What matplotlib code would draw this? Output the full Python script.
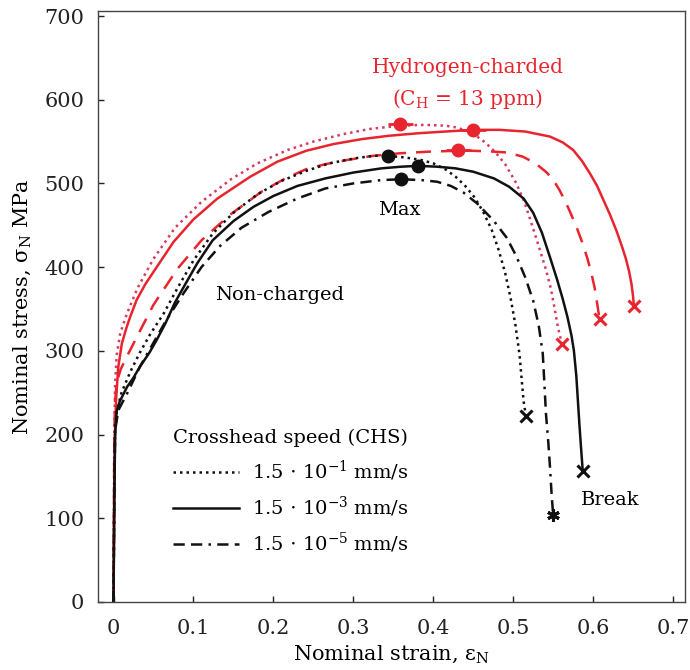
import matplotlib
matplotlib.use("Agg")
import matplotlib.pyplot as plt

plt.rcParams['font.family'] = ['DejaVu Serif']
plt.rcParams['mathtext.fontset'] = 'dejavuserif'

# ---- data (strain, stress MPa) ----
# Non-charged
nc_fast_x = [0, 0.001, 0.002, 0.004, 0.01, 0.021, 0.033, 0.046, 0.063, 0.08, 0.1, 0.124, 0.15, 0.18, 0.21, 0.241, 0.27, 0.302, 0.325, 0.343, 0.365, 0.385, 0.4, 0.415, 0.428, 0.44, 0.452, 0.463, 0.473, 0.482, 0.49, 0.497, 0.503, 0.508, 0.511, 0.513, 0.516]
nc_fast_y = [0, 130, 205, 228, 250, 275, 298, 320, 345, 375, 408, 440, 465, 487, 503, 515, 524, 530, 533, 533, 531, 528, 524, 517, 508, 497, 483, 465, 445, 420, 393, 362, 330, 295, 262, 240, 222]

nc_mid_x = [0, 0.001, 0.002, 0.004, 0.008, 0.017, 0.025, 0.033, 0.045, 0.054, 0.065, 0.077, 0.09, 0.105, 0.124, 0.15, 0.175, 0.2, 0.23, 0.265, 0.3, 0.335, 0.36, 0.381, 0.405, 0.428, 0.45, 0.476, 0.495, 0.513, 0.525, 0.536, 0.546, 0.555, 0.562, 0.568, 0.573, 0.576, 0.579, 0.581, 0.583, 0.585, 0.587]
nc_mid_y = [0, 120, 200, 228, 240, 257, 268, 281, 298, 313, 333, 358, 380, 405, 432, 455, 472, 485, 497, 506, 513, 518, 520, 521, 520, 518, 514, 506, 496, 482, 465, 441, 412, 385, 362, 340, 318, 300, 270, 240, 210, 183, 157]

nc_slow_x = [0, 0.001, 0.002, 0.006, 0.012, 0.017, 0.025, 0.033, 0.049, 0.065, 0.087, 0.11, 0.133, 0.16, 0.194, 0.23, 0.265, 0.3, 0.335, 0.36, 0.385, 0.405, 0.422, 0.438, 0.455, 0.476, 0.492, 0.504, 0.515, 0.525, 0.532, 0.537, 0.539, 0.541, 0.544, 0.546, 0.548, 0.55]
nc_slow_y = [0, 130, 205, 229, 240, 249, 265, 281, 308, 335, 368, 400, 425, 447, 466, 482, 494, 500, 504, 505, 504, 502, 497, 489, 476, 455, 435, 413, 388, 360, 330, 297, 262, 225, 190, 162, 130, 104]

# Hydrogen-charged
h_fast_x = [0, 0.001, 0.002, 0.004, 0.0084, 0.017, 0.03, 0.05, 0.077, 0.11, 0.147, 0.18, 0.218, 0.25, 0.288, 0.32, 0.358, 0.39, 0.415, 0.428, 0.442, 0.452, 0.465, 0.478, 0.49, 0.504, 0.514, 0.523, 0.532, 0.541, 0.547, 0.552, 0.556, 0.561]
h_fast_y = [0, 200, 260, 295, 321, 345, 375, 410, 447, 478, 505, 524, 540, 550, 559, 565, 569, 570, 569, 567, 563, 558, 549, 537, 523, 500, 478, 452, 425, 397, 375, 350, 328, 308]

h_mid_x = [0, 0.001, 0.002, 0.0034, 0.006, 0.0105, 0.016, 0.021, 0.029, 0.04, 0.054, 0.075, 0.1, 0.13, 0.171, 0.205, 0.241, 0.275, 0.311, 0.345, 0.382, 0.415, 0.45, 0.483, 0.515, 0.546, 0.562, 0.575, 0.586, 0.596, 0.605, 0.613, 0.621, 0.629, 0.636, 0.641, 0.645, 0.648, 0.65, 0.651]
h_mid_y = [0, 150, 210, 245, 281, 309, 327, 341, 361, 380, 400, 430, 457, 482, 508, 526, 539, 547, 553, 557, 560, 562, 564, 564, 562, 556, 549, 540, 527, 512, 497, 480, 463, 444, 425, 410, 395, 380, 365, 354]

h_slow_x = [0, 0.001, 0.002, 0.004, 0.009, 0.015, 0.031, 0.05, 0.08, 0.11, 0.145, 0.185, 0.215, 0.241, 0.265, 0.292, 0.325, 0.358, 0.395, 0.431, 0.45, 0.475, 0.492, 0.512, 0.528, 0.542, 0.551, 0.558, 0.566, 0.573, 0.58, 0.587, 0.593, 0.598, 0.602, 0.605, 0.608]
h_slow_y = [0, 200, 240, 262, 278, 290, 320, 355, 398, 432, 462, 490, 506, 517, 523, 528, 533, 536, 538, 539, 539, 538, 537, 532, 524, 513, 503, 492, 477, 462, 446, 428, 410, 392, 375, 357, 338]

# maximum points (fast, mid, slow)
nc_max_x = [0.343, 0.381, 0.360]
nc_max_y = [533, 521, 505]
h_max_x = [0.358, 0.450, 0.431]
h_max_y = [571, 564, 540]

legend_title = "Crosshead speed (CHS)"
legend_labels = [r"1.5 $\cdot$ 10$^{-1}$ mm/s", r"1.5 $\cdot$ 10$^{-3}$ mm/s", r"1.5 $\cdot$ 10$^{-5}$ mm/s"]

x_ticks = [0, 0.1, 0.2, 0.3, 0.4, 0.5, 0.6, 0.7]
x_ticklabels = ["0", "0.1", "0.2", "0.3", "0.4", "0.5", "0.6", "0.7"]
y_ticks = [0, 100, 200, 300, 400, 500, 600, 700]

# ---- styles ----
RED = '#e8252e'
PINK = '#d63a5c'
BLACK = '#111111'
dotted = (0, (1, 1.6))
dashdot = (0, (4.5, 2.5, 4.5, 2.5, 1, 2.5))
longdash = (0, (6, 4))
LW = 1.8

fig = plt.figure(figsize=(6.9, 6.7), dpi=100)
ax = fig.add_axes([0.1425, 0.1015, 0.8503, 0.8821])

ax.plot(h_fast_x, h_fast_y, color=PINK, lw=LW, ls=dotted)
ax.plot(h_mid_x, h_mid_y, color=RED, lw=LW, ls='-')
ax.plot(h_slow_x, h_slow_y, color=RED, lw=LW, ls=longdash)

l1, = ax.plot(nc_fast_x, nc_fast_y, color=BLACK, lw=LW, ls=dotted)
l2, = ax.plot(nc_mid_x, nc_mid_y, color=BLACK, lw=LW, ls='-')
l3, = ax.plot(nc_slow_x, nc_slow_y, color=BLACK, lw=LW, ls=dashdot)

# max markers
ax.plot(nc_max_x, nc_max_y, 'o', color=BLACK, ms=9, zorder=5)
ax.plot(h_max_x, h_max_y, '_', color=RED, ms=18, mew=2, zorder=5)
ax.plot(h_max_x, h_max_y, 'o', color=RED, ms=9, zorder=5)

# break markers (last point of each curve)
for xs, ys, c, m in [(nc_fast_x, nc_fast_y, BLACK, 'x'), (nc_mid_x, nc_mid_y, BLACK, 'x'),
                     (nc_slow_x, nc_slow_y, BLACK, (6, 2, 0)),
                     (h_fast_x, h_fast_y, RED, 'x'), (h_mid_x, h_mid_y, RED, 'x'),
                     (h_slow_x, h_slow_y, RED, 'x')]:
    ax.plot([xs[-1]], [ys[-1]], marker=m, color=c, ms=9, mew=2.2, ls='none', zorder=5)

ax.set_xlim(-0.019, 0.715)
ax.set_ylim(0, 706)
ax.set_xticks(x_ticks)
ax.set_xticklabels(x_ticklabels)
ax.set_yticks(y_ticks)
ax.tick_params(direction='in', length=4, width=1, labelsize=15, pad=10, colors='#222222')
ax.tick_params(axis='x', pad=12)
for s in ax.spines.values():
    s.set_color('#444444')
    s.set_linewidth(1.0)

ax.set_xlabel("Nominal strain, ε$_{\\mathrm{N}}$", fontsize=15, labelpad=4)
ax.set_ylabel("Nominal stress, σ$_{\\mathrm{N}}$ MPa", fontsize=15, labelpad=8)

ax.text(0.443, 638, "Hydrogen-charded", color=RED, fontsize=14.5, ha='center', va='center')
ax.text(0.443, 601, r"(C$_{\mathrm{H}}$ = 13 ppm)", color=RED, fontsize=14.5, ha='center', va='center')
ax.text(0.358, 468, "Max", fontsize=14, ha='center', va='center')
ax.text(0.208, 367, "Non-charged", fontsize=14, ha='center', va='center')
ax.text(0.622, 122, "Break", fontsize=14, ha='center', va='center')

leg = ax.legend([l1, l2, l3], legend_labels, title=legend_title, loc='upper left',
                bbox_to_anchor=(0.097, 0.322), frameon=False, fontsize=14,
                title_fontsize=14, handlelength=3.4, labelspacing=0.6, handletextpad=0.7)

fig.savefig("out.png", dpi=100)
